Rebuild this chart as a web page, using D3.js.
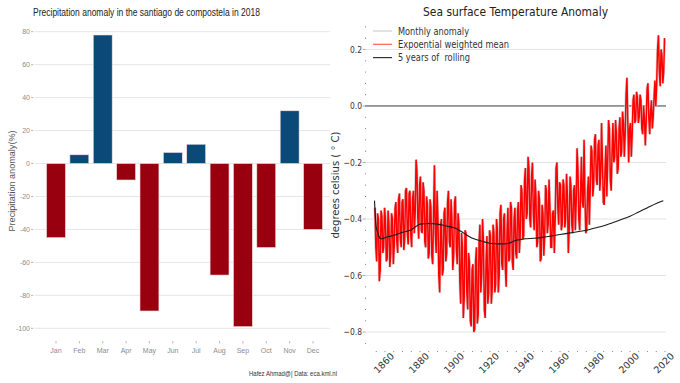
<!DOCTYPE html>
<html>
<head>
<meta charset="utf-8">
<script src="https://cdn.jsdelivr.net/npm/d3@7"></script>
<style>
  body { margin: 0; background: #fff; }
  svg { display: block; }
</style>
</head>
<body>
<script>
// ---- left panel: precipitation anomaly (%)
const months = ["Jan","Feb","Mar","Apr","May","Jun","Jul","Aug","Sep","Oct","Nov","Dec"];
const precipAnomaly = [-45, 5.3, 78, -10, -89.5, 6.7, 11.7, -67.7, -99, -51, 32, -40];
const precipTicks = [80, 60, 40, 20, 0, -20, -40, -60, -80, -100];

// ---- right panel: sea surface temperature anomaly
const sstStartYear = 1854;
// yearly upper / lower envelope of the monthly curve, 1854..2019
const sstHigh = [
  -0.36,-0.38,-0.40,-0.37,-0.39,-0.36,
  -0.40,-0.37,-0.42,-0.38,-0.40,-0.36,-0.34,-0.33,-0.31,-0.34,
  -0.33,-0.30,-0.29,-0.31,-0.30,-0.33,-0.30,-0.19,-0.23,-0.28,
  -0.25,-0.27,-0.30,-0.32,-0.35,-0.33,-0.36,-0.38,-0.21,-0.30,
  -0.40,-0.42,-0.40,-0.38,-0.36,-0.34,-0.30,-0.33,-0.40,-0.34,
  -0.32,-0.38,-0.42,-0.45,-0.50,-0.44,-0.45,-0.52,-0.55,-0.58,
  -0.56,-0.55,-0.50,-0.48,-0.42,-0.40,-0.48,-0.55,-0.46,-0.44,
  -0.46,-0.42,-0.45,-0.40,-0.44,-0.38,-0.35,-0.40,-0.38,-0.44,
  -0.36,-0.34,-0.36,-0.40,-0.36,-0.37,-0.34,-0.28,-0.30,-0.26,
  -0.22,-0.18,-0.22,-0.25,-0.20,-0.26,-0.32,-0.30,-0.33,-0.35,
  -0.38,-0.28,-0.30,-0.26,-0.36,-0.38,-0.37,-0.22,-0.20,-0.27,
  -0.28,-0.26,-0.28,-0.24,-0.32,-0.25,-0.28,-0.30,-0.28,-0.15,
  -0.22,-0.30,-0.18,-0.12,-0.32,-0.30,-0.25,-0.14,-0.16,-0.12,
  -0.10,-0.14,-0.12,-0.06,-0.20,-0.22,-0.14,-0.05,-0.08,-0.16,
  -0.06,-0.05,-0.10,-0.08,-0.04,-0.02,-0.06,0.04,0.10,-0.08,
  -0.06,0.02,0.04,0.05,0.03,0.04,0.02,0.00,-0.04,0.06,
  0.08,-0.02,0.02,0.03,0.09,0.20,0.25,0.20,0.18,0.24
];
const sstLow = [
  -0.50,-0.55,-0.62,-0.58,-0.52,-0.50,
  -0.55,-0.54,-0.57,-0.52,-0.56,-0.50,-0.48,-0.52,-0.47,-0.50,
  -0.51,-0.47,-0.45,-0.49,-0.46,-0.50,-0.45,-0.38,-0.40,-0.47,
  -0.44,-0.45,-0.48,-0.50,-0.54,-0.52,-0.53,-0.56,-0.45,-0.52,
  -0.60,-0.66,-0.60,-0.58,-0.55,-0.52,-0.48,-0.50,-0.58,-0.53,
  -0.50,-0.56,-0.62,-0.70,-0.75,-0.68,-0.66,-0.72,-0.76,-0.78,
  -0.80,-0.79,-0.77,-0.74,-0.66,-0.60,-0.72,-0.75,-0.70,-0.66,
  -0.70,-0.65,-0.66,-0.63,-0.66,-0.60,-0.56,-0.58,-0.57,-0.64,
  -0.55,-0.54,-0.55,-0.58,-0.52,-0.54,-0.52,-0.46,-0.47,-0.46,
  -0.40,-0.38,-0.40,-0.43,-0.38,-0.44,-0.50,-0.48,-0.55,-0.54,
  -0.53,-0.46,-0.45,-0.42,-0.50,-0.50,-0.52,-0.40,-0.36,-0.42,
  -0.44,-0.42,-0.43,-0.40,-0.52,-0.44,-0.42,-0.45,-0.44,-0.34,
  -0.40,-0.44,-0.34,-0.36,-0.45,-0.44,-0.42,-0.30,-0.32,-0.28,
  -0.26,-0.28,-0.30,-0.24,-0.34,-0.35,-0.32,-0.20,-0.26,-0.30,
  -0.20,-0.18,-0.24,-0.22,-0.18,-0.16,-0.18,-0.10,-0.06,-0.20,
  -0.18,-0.10,-0.06,-0.05,-0.06,-0.04,-0.08,-0.10,-0.14,-0.06,
  -0.04,-0.10,-0.08,-0.04,0.00,0.08,0.12,0.07,0.08,0.12
];
const rollYears = [1854,1855,1856,1857,1858,1860,1865,1870,1875,1878,
  1880,1885,1890,1895,1900,1905,1910,1915,1920,1925,
  1930,1935,1940,1945,1950,1955,1960,1965,1970,1975,
  1980,1985,1990,1995,2000,2005,2010,2015,2019];
const rollValues = [-0.335,-0.43,-0.45,-0.468,-0.47,-0.466,-0.458,-0.447,-0.438,-0.425,
  -0.418,-0.416,-0.418,-0.425,-0.432,-0.45,-0.468,-0.478,-0.486,-0.488,
  -0.487,-0.475,-0.47,-0.468,-0.465,-0.46,-0.455,-0.45,-0.445,-0.44,
  -0.432,-0.424,-0.413,-0.402,-0.39,-0.375,-0.36,-0.345,-0.335];
const sstYTicks = [0.2, 0.0, -0.2, -0.4, -0.6, -0.8];
const sstXTicks = [1860, 1880, 1900, 1920, 1940, 1960, 1980, 2000, 2020];
const legendLabels = ["Monthly anomaly", "Expoential weighted mean", "5 years of  rolling"];

const svg = d3.select("body").append("svg").attr("width", 680).attr("height", 383);

// squeeze text to a given pixel width
function fit(sel, w) {
  sel.attr("textLength", w).attr("lengthAdjust", "spacingAndGlyphs");
}

// ================= left panel
const narrow = "'Liberation Sans Narrow','Arial Narrow','Liberation Sans',sans-serif";
const L = svg.append("g").style("font-family", narrow);

const xb = d3.scaleBand().domain(months).range([44.3, 324.7]).paddingInner(0.19).paddingOuter(0.095);
const yb = d3.scaleLinear().domain([-100, 80]).range([328.3, 31.7]);

L.selectAll("line.grid").data(precipTicks).enter().append("line")
  .attr("x1", 35).attr("x2", 330)
  .attr("y1", d => yb(d)).attr("y2", d => yb(d))
  .attr("stroke", "#e6e6e6").attr("stroke-width", 1);

L.selectAll("line.ytick").data(precipTicks).enter().append("line")
  .attr("x1", 31).attr("x2", 33.5)
  .attr("y1", d => yb(d)).attr("y2", d => yb(d))
  .attr("stroke", "#aaa").attr("stroke-width", 0.8);

L.selectAll("text.ytick").data(precipTicks).enter().append("text")
  .attr("x", 30).attr("y", d => yb(d)).attr("dy", "0.35em")
  .attr("text-anchor", "end").attr("font-size", 7).attr("fill", "#8c8c8c")
  .text(d => d);

L.selectAll("rect.bar").data(precipAnomaly).enter().append("rect")
  .attr("x", (d, i) => xb(months[i]))
  .attr("width", xb.bandwidth())
  .attr("y", d => yb(Math.max(0, d)))
  .attr("height", d => Math.abs(yb(d) - yb(0)))
  .attr("fill", d => d >= 0 ? "#0b4a78" : "#98000f")
  .attr("stroke", "#f3dede").attr("stroke-width", 0.6);

L.selectAll("line.xtick").data(months).enter().append("line")
  .attr("x1", d => xb(d) + xb.bandwidth() / 2).attr("x2", d => xb(d) + xb.bandwidth() / 2)
  .attr("y1", 341).attr("y2", 343.5)
  .attr("stroke", "#aaa").attr("stroke-width", 0.8);

L.selectAll("text.xtick").data(months).enter().append("text")
  .attr("x", d => xb(d) + xb.bandwidth() / 2).attr("y", 353)
  .attr("text-anchor", "middle").attr("font-size", 7).attr("fill", "#8c8c8c")
  .text(d => d);

L.append("text").attr("x", 33).attr("y", 16)
  .attr("font-size", 11).attr("fill", "#222")
  .text("Precipitation anomaly in the santiago de compostela in 2018")
  .call(fit, 227);

L.append("text").attr("transform", "translate(15,181) rotate(-90)")
  .attr("text-anchor", "middle").attr("font-size", 9).attr("fill", "#555")
  .text("Precipitation anomaly(%)")
  .call(fit, 101);

L.append("text").attr("x", 337).attr("y", 376)
  .attr("text-anchor", "end").attr("font-size", 7.5).attr("fill", "#333")
  .text("Hafez Ahmad@| Data: eca.kml.nl")
  .call(fit, 88);

// ================= right panel
const R = svg.append("g").style("font-family", "'DejaVu Sans',sans-serif");

const xs = d3.scaleLinear().domain([1850, 2020]).range([367.5, 665]);
const ys = d3.scaleLinear().domain([-0.86, 0.29]).range([349, 24]);

R.selectAll("line.grid").data(sstYTicks.filter(d => d !== 0)).enter().append("line")
  .attr("x1", 365).attr("x2", 666)
  .attr("y1", d => ys(d)).attr("y2", d => ys(d))
  .attr("stroke", "#e3e3e3").attr("stroke-width", 1);

R.append("line")
  .attr("x1", 365).attr("x2", 666).attr("y1", ys(0)).attr("y2", ys(0))
  .attr("stroke", "#3a3a3a").attr("stroke-width", 1);

// y ticks
R.selectAll("line.ytick").data(sstYTicks).enter().append("line")
  .attr("x1", 362.5).attr("x2", 365.5)
  .attr("y1", d => ys(d)).attr("y2", d => ys(d))
  .attr("stroke", "#999").attr("stroke-width", 0.8);

const yMinor = d3.range(-21, 8).map(k => k * 0.04).filter(v => Math.abs(v / 0.2 - Math.round(v / 0.2)) > 1e-6);
R.selectAll("circle.yminor").data(yMinor).enter().append("circle")
  .attr("cx", 365.5).attr("cy", d => ys(d)).attr("r", 0.55).attr("fill", "#777");

R.selectAll("text.ytick").data(sstYTicks).enter().append("text")
  .attr("x", 362).attr("y", d => ys(d)).attr("dy", "0.35em")
  .attr("text-anchor", "end").attr("font-size", 9.5).attr("fill", "#333")
  .text(d => d3.format(".1f")(d).replace("-", "\u2212"))
  .each(function () { d3.select(this).call(fit, this.getComputedTextLength() * 0.8); });

// x ticks
const xMinor = d3.range(1855, 2021, 5);
R.selectAll("circle.xminor").data(xMinor).enter().append("circle")
  .attr("cx", d => xs(d)).attr("cy", 351.5).attr("r", 0.55).attr("fill", "#777");

R.selectAll("text.xtick").data(sstXTicks).enter().append("text")
  .attr("transform", d => `translate(${xs(d) - 1},${363}) rotate(-45)`)
  .attr("text-anchor", "middle").attr("dy", "0.35em")
  .attr("font-size", 9.5).attr("fill", "#333")
  .text(d => d);

// series
const pts = [];
sstHigh.forEach((hi, i) => {
  const yr = sstStartYear + i, lo = sstLow[i];
  if (i % 2 === 0) { pts.push([yr + 0.25, hi], [yr + 0.75, lo]); }
  else { pts.push([yr + 0.25, lo], [yr + 0.75, hi]); }
});
const line = d3.line().x(d => xs(d[0])).y(d => ys(d[1]));

R.append("path").datum(pts).attr("d", line)
  .attr("fill", "none").attr("stroke", "#d4d4d4").attr("stroke-width", 2.8);
R.append("path").datum(pts).attr("d", line)
  .attr("fill", "none").attr("stroke", "#ff0000").attr("stroke-width", 1.5);

const roll = rollYears.map((y, i) => [y, rollValues[i]]);
R.append("path").datum(roll).attr("d", line.curve(d3.curveMonotoneX))
  .attr("fill", "none").attr("stroke", "#1a1a1a").attr("stroke-width", 1.1);

// legend
const legColors = ["#cfcfcf", "#ff5a5a", "#333"];
const legWidths = [71, 111, 72];
const leg = R.selectAll("g.leg").data(legendLabels).enter().append("g")
  .attr("transform", (d, i) => `translate(0,${31 + i * 13.3})`);
leg.append("line").attr("x1", 373).attr("x2", 392)
  .attr("stroke", (d, i) => legColors[i]).attr("stroke-width", 1.2);
leg.append("text").attr("x", 398).attr("dy", "0.35em")
  .attr("font-size", 10).attr("fill", "#333")
  .style("white-space", "pre")
  .text(d => d)
  .each(function (d, i) { d3.select(this).call(fit, legWidths[i]); });

R.append("text").attr("x", 515.5).attr("y", 15.5)
  .attr("text-anchor", "middle").attr("font-size", 12.5).attr("fill", "#222")
  .text("Sea surface Temperature Anomaly")
  .call(fit, 185);

R.append("text").attr("transform", "translate(335,185) rotate(-90)")
  .attr("text-anchor", "middle").attr("dy", "0.35em").attr("font-size", 11).attr("fill", "#333")
  .text("degrees celsius ( \u00b0 C)")
  .call(fit, 107);
</script>
</body>
</html>
